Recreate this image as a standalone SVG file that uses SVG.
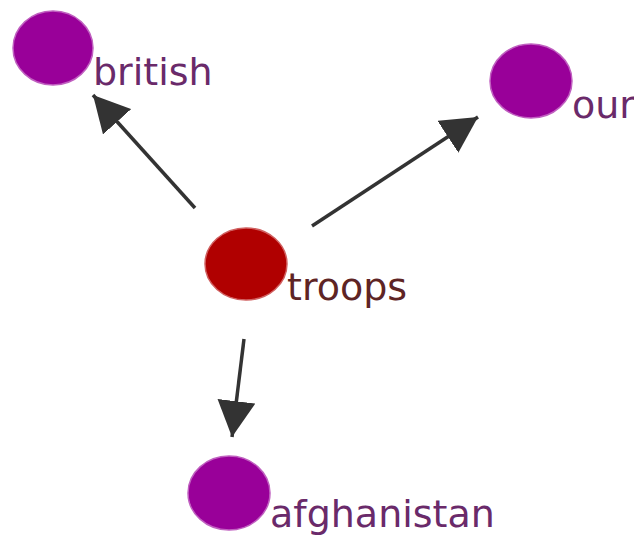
<svg xmlns="http://www.w3.org/2000/svg" width="634" height="538" viewBox="0 0 634 538">
<defs>
<style>
.edge{stroke:#333;stroke-width:3.5;fill:none;marker-end:url(#arr)}
.purple{fill:#990099;stroke:#c060c0;stroke-width:1.5}
.red{fill:#b00000;stroke:#d06060;stroke-width:1.5}
.lbl{font-family:"DejaVu Sans",Verdana,sans-serif;font-size:38px}
.lp{fill:#6a2a6a}
.lr{fill:#5e2424}
</style>
<marker id="arr" viewBox="0 0 36 38" refX="36" refY="19" markerWidth="36" markerHeight="38" markerUnits="userSpaceOnUse" orient="auto">
<path d="M0,0 L36,19 L0,38 z" fill="#333"/>
</marker>
</defs>
<rect width="634" height="538" fill="#fff"/>
<g id="edges">
<line class="edge" x1="195" y1="208" x2="93" y2="95"/>
<line class="edge" x1="312" y1="226" x2="478" y2="117"/>
<line class="edge" x1="244" y1="339" x2="232" y2="437"/>
</g>
<g id="node-british">
<ellipse class="purple" cx="53" cy="48" rx="40" ry="37"/>
<text class="lbl lp" x="93" y="85">british</text>
</g>
<g id="node-our">
<ellipse class="purple" cx="531" cy="81" rx="41" ry="37"/>
<text class="lbl lp" x="572" y="118">our</text>
</g>
<g id="node-troops">
<ellipse class="red" cx="246" cy="264" rx="41" ry="36"/>
<text class="lbl lr" x="287" y="300">troops</text>
</g>
<g id="node-afghanistan">
<ellipse class="purple" cx="229" cy="493" rx="41" ry="37"/>
<text class="lbl lp" x="270" y="527">afghanistan</text>
</g>
</svg>
